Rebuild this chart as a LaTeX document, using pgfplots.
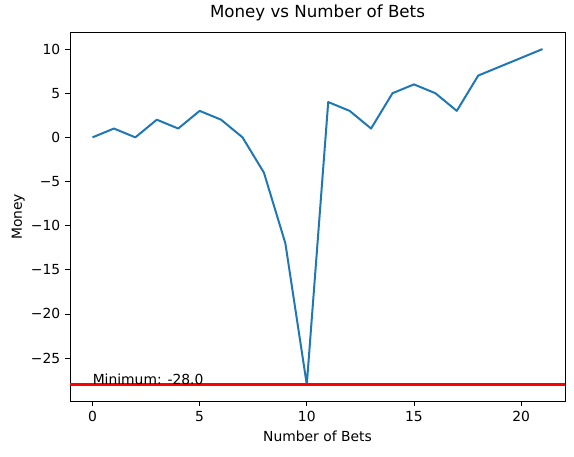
\documentclass[border=0pt]{standalone}
\usepackage{pgfplots}
\pgfplotsset{compat=1.18}
\usepackage{fontspec}
\setmainfont{DejaVu Sans}
\definecolor{C0}{HTML}{1F77B4}
\begin{document}
\fontsize{10.4pt}{12pt}\selectfont
\begin{tikzpicture}
\begin{axis}[
  scale only axis,
  width=371.25pt, height=276.75pt,
  xmin=-1.05, xmax=22.05, ymin=-29.9, ymax=11.9,
  xtick={0,5,10,15,20},
  ytick={-25,-20,-15,-10,-5,0,5,10},
  yticklabels={−25,−20,−15,−10,−5,0,5,10},
  tick align=outside, tick pos=left,
  major tick length=3.65pt,
  every tick/.style={black, line width=0.6pt},
  axis line style={line width=0.6pt},
  /pgf/number format/assume math mode=true,
  ticklabel style={font=\fontsize{10.4pt}{12pt}\selectfont},
  xlabel={Number of Bets}, ylabel={Money},
  label style={font=\fontsize{10.4pt}{12pt}\selectfont},
  ylabel style={yshift=-2.5pt},
  title={Money vs Number of Bets},
  title style={font=\fontsize{12.5pt}{14pt}\selectfont, yshift=-1pt},
  clip=false,
]
\addplot[C0, line width=1.5pt, line join=round, mark=none] coordinates {
(0,0)(1,1)(2,0)(3,2)(4,1)(5,3)(6,2)(7,0)(8,-4)(9,-12)(10,-28)(11,4)(12,3)(13,1)(14,5)(15,6)(16,5)(17,3)(18,7)(19,8)(20,9)(21,10)};
\addplot[red, line width=1.6pt, mark=none] coordinates {(-1.05,-28)(22.05,-28)};
\node[anchor=base west, inner sep=0pt, font=\fontsize{10.4pt}{12pt}\selectfont] at (axis cs:0,-28) {Minimum: -28.0};
\end{axis}
\path (current axis.south west) ++(-52.5pt,-41.25pt) coordinate (bl);
\path (current axis.north east) ++(6.75pt,21.75pt) coordinate (tr);
\path (bl) rectangle (tr);
\end{tikzpicture}
\end{document}
